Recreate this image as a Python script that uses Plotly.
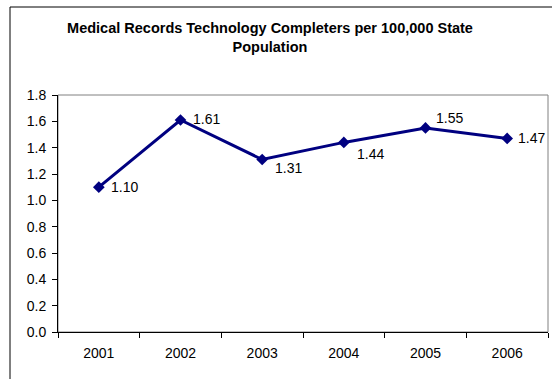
import plotly.graph_objects as go

years = ["2001", "2002", "2003", "2004", "2005", "2006"]
values = [1.10, 1.61, 1.31, 1.44, 1.55, 1.47]
labels = ["1.10", "1.61", "1.31", "1.44", "1.55", "1.47"]
# label offsets in pixels (right, up) from each point
label_dx = [10, 10, 11, 11, 8, 9]
label_dy = [0, 1, -8, -12, 10, 0]

title_text = "<b>Medical Records Technology Completers per 100,000 State<br>Population</b>"

W, H = 552, 379
L, R, T, B = 58, 4, 95, 47
pw, ph = W - L - R, H - T - B
FONT = "Liberation Sans, Arial"

fig = go.Figure()
fig.add_trace(go.Scatter(
    x=years, y=values, mode="lines+markers",
    line=dict(color="#000080", width=3),
    marker=dict(symbol="diamond", size=9, color="#000080"),
    cliponaxis=False, showlegend=False,
))

for i, (v, t, dx, dy) in enumerate(zip(values, labels, label_dx, label_dy)):
    fig.add_annotation(x=i, y=v, text=t, showarrow=False, xanchor="left", yanchor="middle",
                       xshift=dx, yshift=dy,
                       font=dict(family=FONT, size=14, color="black"))

# outer chart border
fig.add_shape(type="rect", xref="paper", yref="paper",
              x0=(10 - L) / pw, x1=(W + 5 - L) / pw,
              y0=-(B + 5) / ph, y1=1 + (T - 7) / ph,
              line=dict(color="black", width=1), layer="below")
# plot area border
fig.add_shape(type="rect", xref="paper", yref="paper", x0=0, x1=1, y0=0, y1=1,
              line=dict(color="#808080", width=1), layer="below")

fig.update_layout(
    width=W, height=H,
    margin=dict(l=L, r=R, t=T, b=B),
    paper_bgcolor="white", plot_bgcolor="white",
    font=dict(family=FONT, size=14, color="black"),
    title=dict(text=title_text, x=(270 - L) / pw, xref="paper", xanchor="center",
               y=1 - 33 / H, yanchor="middle",
               font=dict(family=FONT, size=14.5, color="black")),
)
fig.update_xaxes(type="category", range=[-0.5, len(years) - 0.5],
                 tickson="boundaries", ticks="outside", ticklen=5,
                 tickcolor="black", showline=True, linecolor="black", linewidth=1,
                 showgrid=False, zeroline=False, tickfont=dict(size=14),
                 ticklabelstandoff=8)
fig.update_yaxes(range=[0, 1.8], dtick=0.2, tickformat=".1f", ticks="outside", ticklen=5,
                 tickcolor="black", showline=True, linecolor="black", linewidth=1,
                 showgrid=False, zeroline=False, tickfont=dict(size=14),
                 ticklabelstandoff=3)

fig.write_html("out.html", config={"displayModeBar": False},
               post_script="document.body.style.margin='0';document.body.style.overflow='hidden';")
